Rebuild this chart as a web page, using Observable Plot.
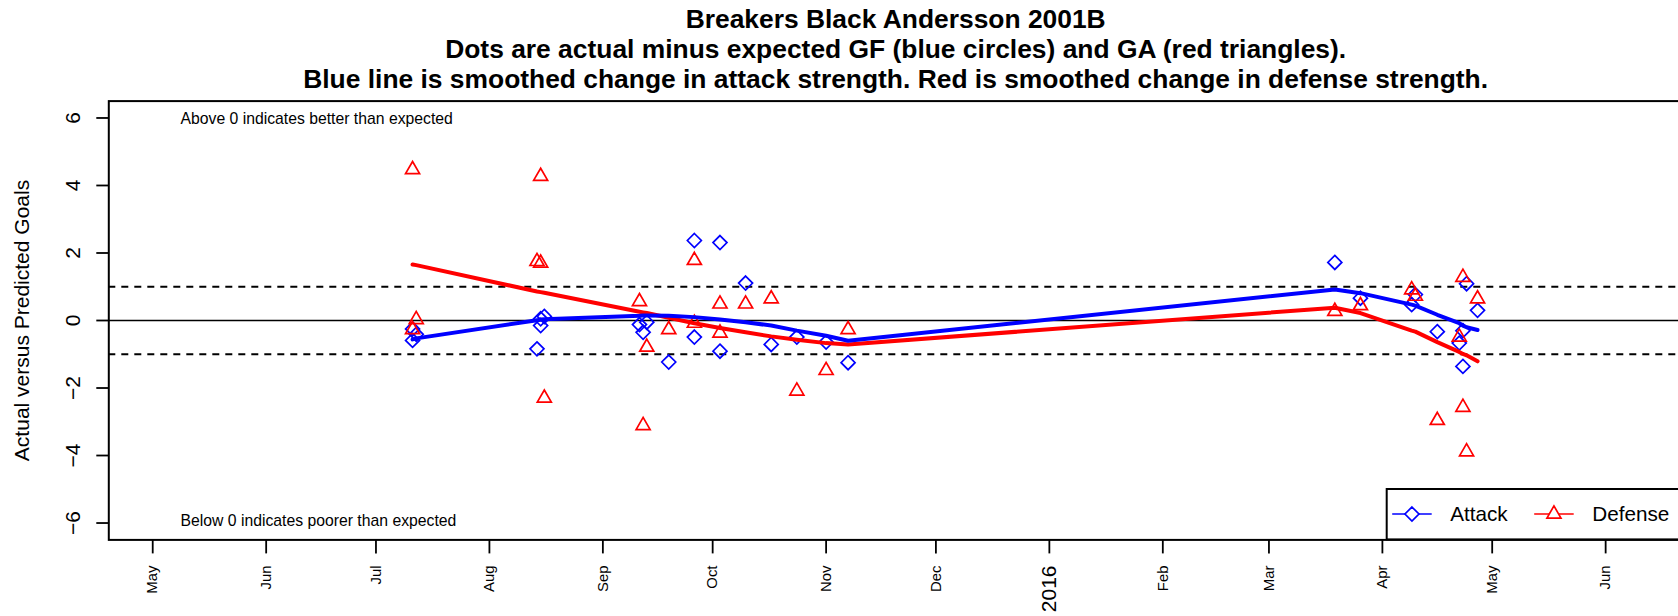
<!DOCTYPE html>
<html><head><meta charset="utf-8">
<script src="https://cdn.jsdelivr.net/npm/d3@7"></script>
<script src="https://cdn.jsdelivr.net/npm/@observablehq/plot@0.6"></script>
<style>
body{margin:0;background:#fff;}
#wrap{position:relative;width:1678px;height:616px;overflow:hidden;background:#fff;}
#wrap svg{max-width:none !important;}
</style></head><body><div id="wrap"></div>
<script>
// ---- data ----
const gameDates = ["2015-07-11","2015-07-11","2015-07-12","2015-08-14","2015-08-15","2015-08-15","2015-08-16",
  "2015-09-11","2015-09-12","2015-09-13","2015-09-19","2015-09-26","2015-09-26","2015-10-03","2015-10-03",
  "2015-10-10","2015-10-17","2015-10-24","2015-11-01","2015-11-07",
  "2016-03-19","2016-03-26","2016-04-09","2016-04-10","2016-04-16","2016-04-22","2016-04-23","2016-04-23","2016-04-24","2016-04-27"];
const attack = [-0.59,-0.25,-0.41,-0.84,-0.15,0.05,0.12,
  -0.12,-0.35,-0.05,-1.23,2.37,-0.49,2.31,-0.91,
  1.11,-0.71,-0.49,-0.64,-1.25,
  1.72,0.66,0.47,0.77,-0.33,-0.67,-0.30,-1.36,1.09,0.30];
const defense = [4.47,-0.27,0.03,1.75,4.27,1.70,-2.30,
  0.56,-3.11,-0.79,-0.27,1.78,-0.08,0.49,-0.37,
  0.49,0.64,-2.09,-1.48,-0.27,
  0.27,0.44,0.91,0.72,-2.96,-0.49,1.28,-2.57,-3.89,0.64];
const attackSmooth = [-0.56,-0.56,-0.53,0.01,0.02,0.03,0.04,
  0.14,0.15,0.15,0.14,0.10,0.10,0.03,0.03,
  -0.05,-0.15,-0.30,-0.45,-0.60,
  0.92,0.81,0.47,0.44,0.17,-0.08,-0.15,-0.15,-0.20,-0.28];
const defenseSmooth = [1.66,1.66,1.64,0.86,0.84,0.84,0.82,
  0.26,0.24,0.22,0.08,-0.08,-0.08,-0.22,-0.22,
  -0.35,-0.47,-0.57,-0.67,-0.71,
  0.38,0.22,-0.30,-0.33,-0.64,-0.93,-0.99,-0.99,-1.03,-1.21];
const tickDates = ["2015-05-01","2015-06-01","2015-07-01","2015-08-01","2015-09-01","2015-10-01","2015-11-01",
  "2015-12-01","2016-01-01","2016-02-01","2016-03-01","2016-04-01","2016-05-01","2016-06-01"];
const tickLabels = ["May","Jun","Jul","Aug","Sep","Oct","Nov","Dec","2016","Feb","Mar","Apr","May","Jun"];
const yTicks = [-6,-4,-2,0,2,4,6];
const xDomain = ["2015-04-19","2016-06-22"];
const titleLines = ["Breakers Black Andersson 2001B",
  "Dots are actual minus expected GF (blue circles) and GA (red triangles).",
  "Blue line is smoothed change in attack strength. Red is smoothed change in defense strength."];
const yLabel = "Actual versus Predicted Goals";
const notes = ["Above 0 indicates better than expected", "Below 0 indicates poorer than expected"];
const noteY = [6, -6];
const refLines = [-1, 1];
const legendLabels = ["Attack", "Defense"];

// ---- build ----
const parse = d3.utcParse("%Y-%m-%d");
const games = gameDates.map((d, i) => ({date: parse(d), attack: attack[i], defense: defense[i], as: attackSmooth[i], ds: defenseSmooth[i]}));
const ticks = tickDates.map((d, i) => ({date: parse(d), label: tickLabels[i]}));
const fmt = d => d < 0 ? "\u2212" + (-d) : String(d);
const FONT = "'Liberation Sans', Arial, Helvetica, sans-serif";

const W = 1690, H = 616, mL = 108.3, mR = 8, mT = 100.6, mB = 76.6;

const noteMark = (i, dy) => Plot.text([{text: notes[i], y: noteY[i]}], {y: "y", text: "text", frameAnchor: "left", dx: 71.7, dy, textAnchor: "start", lineAnchor: "middle", fontSize: 15.75, fill: "black"});

const chart = Plot.plot({
  width: W, height: H,
  marginLeft: mL, marginRight: mR, marginTop: mT, marginBottom: mB,
  style: {fontFamily: FONT, background: "white", color: "black", overflow: "visible", maxWidth: "none"},
  x: {type: "utc", domain: xDomain.map(parse)},
  y: {domain: [-6.5, 6.5]},
  marks: [
    Plot.ruleY([0], {stroke: "black", strokeWidth: 1.6}),
    Plot.ruleY(refLines, {stroke: "black", strokeWidth: 1.8, strokeDasharray: "7,6"}),
    Plot.dot(games, {x: "date", y: "attack", symbol: "diamond2", r: 6.3, stroke: "#0000ff", strokeWidth: 1.7, fill: "none"}),
    Plot.dot(games, {x: "date", y: "defense", symbol: "triangle2", r: 6.7, stroke: "#ff0000", strokeWidth: 1.7, fill: "none"}),
    Plot.line(games, {x: "date", y: "ds", stroke: "#ff0000", strokeWidth: 4}),
    Plot.line(games, {x: "date", y: "as", stroke: "#0000ff", strokeWidth: 4}),
    Plot.frame({stroke: "black", strokeWidth: 2}),
    Plot.axisY(yTicks, {tickSize: 12, fill: "none", label: null, stroke: "black", strokeWidth: 1.8}),
    Plot.text(yTicks, {y: d => d, text: fmt, frameAnchor: "left", dx: -35.8, rotate: -90, textAnchor: "middle", lineAnchor: "middle", fontSize: 21, fill: "black"}),
    Plot.axisX(ticks.map(t => t.date), {tickSize: 14, fill: "none", label: null, stroke: "black", strokeWidth: 1.8}),
    Plot.text(ticks.filter(t => t.label !== "2016"), {x: "date", text: "label", frameAnchor: "bottom", dy: 25.6, rotate: -90, textAnchor: "end", lineAnchor: "middle", fontSize: 14.9, fill: "black"}),
    Plot.text(ticks.filter(t => t.label === "2016"), {x: "date", text: "label", frameAnchor: "bottom", dy: 25.6, rotate: -90, textAnchor: "end", lineAnchor: "middle", fontSize: 21, fill: "black"}),
    Plot.text([yLabel], {text: d => d, frameAnchor: "left", dx: -87, rotate: -90, textAnchor: "middle", lineAnchor: "middle", fontSize: 21, fill: "black"}),
    noteMark(0, 0.6),
    noteMark(1, -2.5),
    Plot.text([titleLines[0]], {text: d => d, frameAnchor: "top", dy: -81.75, lineAnchor: "middle", fontSize: 26.4, fontWeight: "bold", fill: "black"}),
    Plot.text([titleLines[1]], {text: d => d, frameAnchor: "top", dy: -51.75, lineAnchor: "middle", fontSize: 26.4, fontWeight: "bold", fill: "black"}),
    Plot.text([titleLines[2]], {text: d => d, frameAnchor: "top", dy: -21.75, lineAnchor: "middle", fontSize: 26.4, fontWeight: "bold", fill: "black"})
  ]
});
const wrap = document.getElementById("wrap");
chart.style.position = "absolute"; chart.style.left = "0px"; chart.style.top = "0px";
chart.style.maxWidth = "none"; chart.style.width = W + "px"; chart.style.height = H + "px";
wrap.appendChild(chart);

// ---- legend (bottom-right inside the plot frame, like R's legend) ----
const yScale = chart.scale("y"), xScale = chart.scale("x");
const frameBottom = yScale.range[0], frameRight = xScale.range[1];
const boxLeft = 1386.7, boxTop = frameBottom - 50.4, midY = boxTop + 25;
const leg = d3.select(wrap).append("svg")
  .attr("width", 1678).attr("height", 616)
  .style("position", "absolute").style("left", "0px").style("top", "0px")
  .style("font-family", FONT);
leg.append("rect").attr("x", boxLeft).attr("y", boxTop).attr("width", frameRight - boxLeft).attr("height", frameBottom - boxTop)
  .attr("fill", "white").attr("stroke", "black").attr("stroke-width", 2);
const entries = [
  {label: legendLabels[0], color: "#0000ff", sym: d3.symbolDiamond2, size: Math.PI * 6.3 * 6.3, x0: boxLeft + 5.5},
  {label: legendLabels[1], color: "#ff0000", sym: d3.symbolTriangle2, size: Math.PI * 6.7 * 6.7, x0: boxLeft + 147.5}
];
for (const e of entries) {
  leg.append("line").attr("x1", e.x0).attr("x2", e.x0 + 39.5).attr("y1", midY).attr("y2", midY)
    .attr("stroke", e.color).attr("stroke-width", 1.7);
  leg.append("path").attr("d", d3.symbol(e.sym, e.size)()).attr("transform", `translate(${e.x0 + 19.75},${midY})`)
    .attr("fill", "white").attr("stroke", e.color).attr("stroke-width", 1.7);
  leg.append("text").attr("x", e.x0 + 58).attr("y", midY).attr("dy", "0.35em")
    .attr("font-size", 20.7).attr("fill", "black").text(e.label);
}
</script></body></html>
